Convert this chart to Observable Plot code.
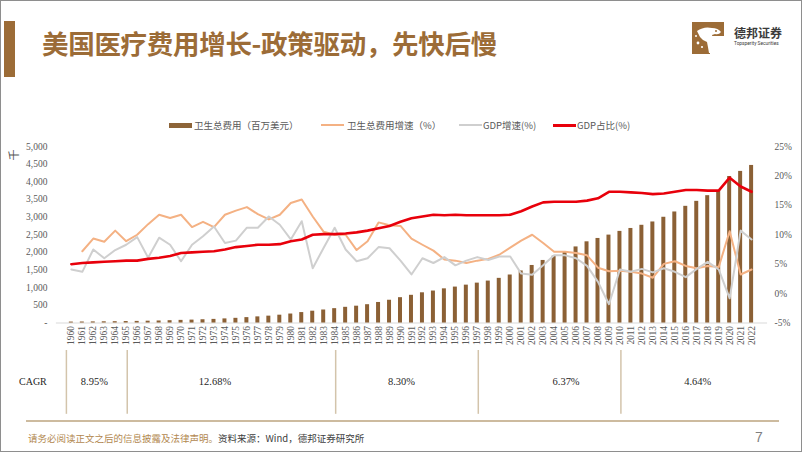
<!DOCTYPE html>
<html><head><meta charset="utf-8">
<script src="https://cdn.jsdelivr.net/npm/d3@7"></script>
<script src="https://cdn.jsdelivr.net/npm/@observablehq/plot@0.6"></script>
<style>
html,body{margin:0;padding:0;background:#fff;}
#page{position:relative;width:802px;height:452px;overflow:hidden;box-sizing:border-box;border:1px solid #8e8e8e;font-family:"Noto Sans CJK SC",sans-serif;background:#fff;}
.abs{position:absolute;white-space:nowrap;}
#title{left:41px;top:22px;font-size:26.5px;font-weight:700;color:#9c6c37;letter-spacing:-0.3px;}
#bar{left:3px;top:20px;width:11px;height:56px;background:#9c6c37;}
.lg{position:absolute;top:118px;font-size:9.5px;color:#595959;line-height:12px;}
.sw{position:absolute;top:123px;width:23px;}
#chart{position:absolute;left:0;top:135px;}
#table{position:absolute;left:0;top:349px;}
</style></head><body><div id="page">
<div id="bar" class="abs"></div>
<div id="title" class="abs">美国医疗费用增长-政策驱动，先快后慢</div>
<div class="abs" style="left:691px;top:21px;width:34px;height:33px;">
  <svg width="34" height="33" viewBox="0 0 34 33">
    <path d="M0 0 H32 V14 H18 V32 H0 Z" fill="#9c6c37"/>
    <path d="M5 9 Q12 4 20 6 Q26 6 29 10 Q27 13 23 12 L20 13 Q22 19 20 24 L22 31 L17 31 Q16 25 15 20 Q11 19 8 15 Z" fill="#fff"/>
    <circle cx="6" cy="21" r="1.4" fill="#fff"/><circle cx="10" cy="25" r="1.1" fill="#fff"/><circle cx="4" cy="14" r="1" fill="#fff"/>
    <circle cx="24" cy="9" r="1" fill="#9c6c37"/>
  </svg>
</div>
<div class="abs" style="left:733px;top:23px;font-size:12px;font-weight:700;color:#3a3a3a;">德邦证券</div>
<div class="abs" style="left:733px;top:40px;font-size:4.8px;color:#3a3a3a;font-family:Roboto;">Topsperity Securities</div>

<div class="sw" style="left:168px;top:122px;height:5px;background:#8d6438;"></div>
<div class="lg" style="left:193px;">卫生总费用（百万美元）</div>
<div class="sw" style="left:320px;height:2px;background:#f4b183;"></div>
<div class="lg" style="left:346px;">卫生总费用增速（%）</div>
<div class="sw" style="left:458px;height:2px;background:#cfcfcf;"></div>
<div class="lg" style="left:482px;">GDP增速(%)</div>
<div class="sw" style="left:552px;height:2.5px;background:#e8000b;"></div>
<div class="lg" style="left:576px;">GDP占比(%)</div>

<div class="abs" style="left:6px;top:146px;font-size:11px;color:#595959;transform:rotate(-90deg);">千</div>
<div id="chart"></div>
<div id="table"></div>
<div class="abs" style="left:18px;top:375px;font-size:10px;color:#262626;font-family:'Liberation Serif';">CAGR</div>

<div class="abs" style="left:25px;top:419px;width:753px;height:2px;background:#cdbb9f;"></div>
<div class="abs" style="left:27px;top:430px;font-size:9.5px;color:#b28850;">请务必阅读正文之后的信息披露及法律声明。<span style="color:#404040;">资料来源：Wind，德邦证券研究所</span></div>
<div class="abs" style="left:754px;top:428px;font-size:14px;color:#7f7f7f;font-family:'Liberation Sans';">7</div>
</div>
<script>
const years = [1960,1961,1962,1963,1964,1965,1966,1967,1968,1969,1970,1971,1972,1973,1974,1975,1976,1977,1978,1979,1980,1981,1982,1983,1984,1985,1986,1987,1988,1989,1990,1991,1992,1993,1994,1995,1996,1997,1998,1999,2000,2001,2002,2003,2004,2005,2006,2007,2008,2009,2010,2011,2012,2013,2014,2015,2016,2017,2018,2019,2020,2021,2022];
// 卫生总费用 (千百万美元)
const spend = [27,29,32,35,38,42,46,52,58,66,75,83,93,103,117,133,153,174,195,222,255,296,335,369,407,445,477,519,582,645,718,785,856,906,968,1018,1073,1130,1188,1265,1360,1475,1630,1772,1895,2025,2155,2300,2395,2490,2595,2678,2768,2862,2995,3145,3305,3446,3607,3750,4150,4294,4463];
// 卫生总费用增速 (%)
const healthGrowth = [null,7.2,9.35,8.8,10.7,8.9,10.0,11.8,13.4,12.85,13.4,11.3,12.2,11.3,13.4,14.1,14.7,13.5,12.6,13.4,15.4,16.0,13.1,10.5,10.0,10.0,7.4,8.9,12.1,11.6,11.5,9.35,8.3,7.3,5.8,5.6,5.2,5.6,5.9,6.6,7.8,9.0,10.0,8.6,7.1,7.1,6.9,6.5,4.4,3.8,3.9,3.7,3.4,2.7,5.05,5.5,4.7,4.3,4.7,4.5,10.6,3.25,4.1];
// GDP增速 (%)
const gdpGrowth = [4.1,3.7,7.5,6.0,7.4,8.3,9.6,6.1,9.5,8.3,5.5,8.3,9.75,11.4,8.6,9.0,11.2,11.2,13.1,11.7,9.2,12.3,4.3,7.8,11.2,7.5,5.5,6.0,7.9,7.7,5.6,3.25,6.0,5.2,6.2,4.8,5.6,6.2,5.7,6.3,6.3,3.4,3.2,4.8,6.5,6.5,6.0,4.7,2.0,-1.8,4.1,3.7,4.2,3.6,4.3,3.7,2.8,4.2,5.4,4.1,-0.8,10.7,9.2];
// GDP占比 (%)
const gdpShare = [5.0,5.2,5.3,5.4,5.5,5.6,5.6,5.9,6.1,6.4,6.9,7.0,7.1,7.2,7.5,7.9,8.1,8.3,8.3,8.4,8.9,9.2,10.0,10.1,10.1,10.2,10.4,10.7,11.1,11.5,12.2,12.8,13.1,13.4,13.3,13.4,13.3,13.3,13.3,13.3,13.4,14.0,14.8,15.5,15.6,15.6,15.6,15.8,16.2,17.3,17.3,17.2,17.1,16.9,17.0,17.3,17.6,17.6,17.5,17.5,19.7,18.2,17.3];
const leftTicks = [0,500,1000,1500,2000,2500,3000,3500,4000,4500,5000];
const rightTicks = [-5,0,5,10,15,20,25];
const cagrBounds = ["1965","1984","1997","2010"];
const cagrFirst = ["1960"];
const cagrLabelYears = ["1962","1973","1990","2005","2017"];
const cagrValues = ["8.95%","12.68%","8.30%","6.37%","4.64%"];

const serif = "'Liberation Serif', 'Times New Roman', serif";
const xDomain = years.map(String);
const yMax = 5000, pMin = -5, pMax = 25;
const pctToY = p => (p - pMin) * yMax / (pMax - pMin);
const rows = years.map((y, i) => ({year: String(y), spend: spend[i], hg: healthGrowth[i], gg: gdpGrowth[i], sh: gdpShare[i]}));
const xScale = {domain: xDomain, paddingInner: 0.62, paddingOuter: 0.31};

const chart = Plot.plot({
  width: 802, height: 215,
  marginLeft: 55, marginRight: 34, marginTop: 10, marginBottom: 28,
  x: {...xScale, label: null},
  y: {domain: [0, yMax], label: null},
  style: {fontFamily: serif, fontSize: "9px", color: "#595959", background: "transparent", overflow: "visible"},
  marks: [
    Plot.ruleY([0], {stroke: "#d9d9d9"}),
    Plot.barY(rows, {x: "year", y: "spend", fill: "#8b6035"}),
    Plot.lineY(rows.filter(d => d.hg != null), {x: "year", y: d => pctToY(d.hg), stroke: "#f4b183", strokeWidth: 2}),
    Plot.lineY(rows, {x: "year", y: d => pctToY(d.gg), stroke: "#cfcfcf", strokeWidth: 2}),
    Plot.lineY(rows, {x: "year", y: d => pctToY(d.sh), stroke: "#e8000b", strokeWidth: 2.6}),
    Plot.axisX({tickRotate: -90, tickSize: 0, tickPadding: 3, fontSize: 9.5, fontFamily: serif, label: null}),
    Plot.axisY(leftTicks, {anchor: "left", tickSize: 0, tickPadding: 9, fontSize: 9.5, fontFamily: serif, label: null, tickFormat: d => d === 0 ? "-" : d3.format(",")(d)}),
    Plot.axisY(rightTicks.map(pctToY), {anchor: "right", tickSize: 0, tickPadding: 7, fontSize: 9.5, fontFamily: serif, label: null, tickFormat: d => `${Math.round(d * (pMax - pMin) / yMax + pMin)}%`})
  ]
});
document.getElementById("chart").appendChild(chart);

const table = Plot.plot({
  width: 802, height: 64,
  marginLeft: 55, marginRight: 34, marginTop: 0, marginBottom: 0,
  x: {...xScale, axis: null},
  y: {axis: null},
  style: {fontFamily: serif, fontSize: "10px", color: "#262626", background: "transparent", overflow: "visible"},
  marks: [
    Plot.ruleX(cagrFirst, {x: d => d, stroke: "#d3c4ab", strokeWidth: 1.5, dx: -6}),
    Plot.ruleX(cagrBounds, {x: d => d, stroke: "#d3c4ab", strokeWidth: 1.5}),
    Plot.text(cagrValues, {x: cagrLabelYears, text: d => d, fill: "#262626", fontSize: 10.5, fontFamily: serif, dy: -1})
  ]
});
document.getElementById("table").appendChild(table);
</script>
</body></html>
